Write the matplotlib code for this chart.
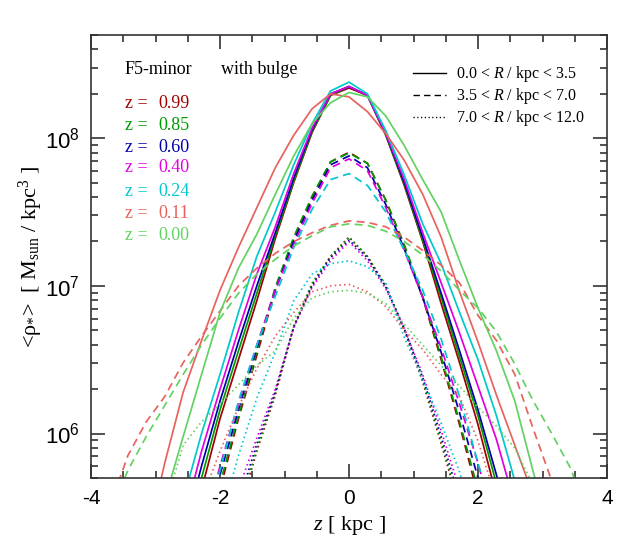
import numpy as np
import matplotlib
matplotlib.use("Agg")
import matplotlib.pyplot as plt
from matplotlib.lines import Line2D
from matplotlib.ticker import FixedLocator, NullFormatter

plt.rcParams['font.family'] = ['Liberation Serif', 'DejaVu Serif']
plt.rcParams['mathtext.fontset'] = 'custom'
plt.rcParams['mathtext.rm'] = 'Liberation Serif'
plt.rcParams['mathtext.it'] = 'Liberation Serif:italic'
plt.rcParams['mathtext.sf'] = 'Liberation Sans'

# ---------------- data ----------------
# vertical bin centres (kpc): k * 2/7 for k = -13..13
z_bins = [-3.714, -3.429, -3.143, -2.857, -2.571, -2.286, -2.000, -1.714, -1.429,
          -1.143, -0.857, -0.571, -0.286, 0.000, 0.286, 0.571, 0.857, 1.143,
          1.429, 1.714, 2.000, 2.286, 2.571, 2.857, 3.143, 3.429, 3.714]

redshift_labels = ["0.99", "0.85", "0.60", "0.40", "0.24", "0.11", "0.00"]
series_colors = ["#a00000", "#009a00", "#0000a8", "#e000e0", "#00c8cc", "#e8625e", "#62d262"]

# log10 <rho_*> [Msun/kpc^3], inner annulus 0.0 < R < 3.5 kpc
log_rho_inner = {
    "0.99": [3.10, 3.60, 4.10, 4.60, 5.10, 5.62, 6.10, 6.50, 6.90, 7.32, 7.70, 8.04, 8.29, 8.34,
             8.29, 8.02, 7.68, 7.30, 6.88, 6.48, 6.06, 5.58, 5.10, 4.60, 4.10, 3.60, 3.10],
    "0.85": [3.20, 3.70, 4.20, 4.70, 5.20, 5.70, 6.16, 6.56, 6.95, 7.34, 7.71, 8.05, 8.29, 8.35,
             8.29, 8.02, 7.69, 7.31, 6.92, 6.52, 6.12, 5.66, 5.20, 4.70, 4.20, 3.70, 3.20],
    "0.60": [3.30, 3.80, 4.30, 4.80, 5.30, 5.78, 6.22, 6.62, 7.00, 7.36, 7.73, 8.06, 8.30, 8.35,
             8.29, 8.03, 7.70, 7.33, 6.95, 6.56, 6.16, 5.72, 5.25, 4.80, 4.30, 3.80, 3.30],
    "0.40": [3.40, 3.90, 4.40, 4.90, 5.40, 5.88, 6.30, 6.70, 7.08, 7.40, 7.76, 8.07, 8.30, 8.35,
             8.29, 8.03, 7.72, 7.36, 7.02, 6.68, 6.32, 5.96, 5.52, 5.00, 4.50, 4.00, 3.50],
    "0.24": [3.60, 4.10, 4.60, 5.10, 5.55, 6.00, 6.40, 6.82, 7.20, 7.50, 7.82, 8.10, 8.32, 8.38,
             8.30, 8.05, 7.75, 7.42, 7.15, 6.82, 6.50, 6.12, 5.68, 5.20, 4.70, 4.20, 3.70],
    "0.11": [4.20, 4.70, 5.25, 5.80, 6.28, 6.63, 6.97, 7.26, 7.53, 7.80, 8.02, 8.20, 8.30, 8.28,
             8.18, 8.03, 7.85, 7.62, 7.33, 6.96, 6.62, 6.26, 5.92, 5.58, 5.10, 4.60, 4.10],
    "0.00": [4.00, 4.50, 5.00, 5.55, 5.98, 6.40, 6.82, 7.12, 7.35, 7.62, 7.88, 8.10, 8.24, 8.31,
             8.28, 8.15, 7.95, 7.72, 7.50, 7.17, 6.85, 6.56, 6.22, 5.74, 5.30, 4.80, 4.30],
}
# middle annulus 3.5 < R < 7.0 kpc
log_rho_middle = {
    "0.99": [2.70, 3.20, 3.70, 4.20, 4.70, 5.20, 5.62, 6.10, 6.53, 6.97, 7.32, 7.60, 7.84, 7.905,
             7.83, 7.58, 7.27, 6.92, 6.50, 6.06, 5.58, 5.10, 4.60, 4.10, 3.60, 3.10, 2.60],
    "0.85": [2.70, 3.20, 3.70, 4.20, 4.70, 5.20, 5.66, 6.12, 6.56, 6.99, 7.33, 7.61, 7.84, 7.90,
             7.83, 7.58, 7.28, 6.93, 6.52, 6.08, 5.62, 5.15, 4.65, 4.15, 3.65, 3.15, 2.65],
    "0.60": [2.75, 3.25, 3.75, 4.25, 4.75, 5.25, 5.72, 6.16, 6.58, 6.97, 7.30, 7.58, 7.82, 7.88,
             7.80, 7.55, 7.25, 6.92, 6.55, 6.14, 5.70, 5.25, 4.75, 4.25, 3.75, 3.25, 2.75],
    "0.40": [2.80, 3.30, 3.80, 4.30, 4.80, 5.30, 5.78, 6.20, 6.60, 6.97, 7.28, 7.56, 7.80, 7.86,
             7.78, 7.53, 7.24, 6.92, 6.58, 6.20, 5.80, 5.35, 4.85, 4.35, 3.85, 3.35, 2.85],
    "0.24": [2.80, 3.30, 3.80, 4.30, 4.80, 5.30, 5.75, 6.22, 6.60, 6.93, 7.26, 7.52, 7.72, 7.76,
             7.68, 7.50, 7.24, 6.97, 6.64, 6.25, 5.80, 5.35, 4.85, 4.35, 3.85, 3.35, 2.85],
    "0.11": [5.50, 5.85, 6.08, 6.25, 6.48, 6.66, 6.83, 7.00, 7.12, 7.22, 7.30, 7.36, 7.41, 7.44,
             7.43, 7.40, 7.33, 7.24, 7.14, 7.02, 6.80, 6.63, 6.40, 6.03, 5.68, 5.30, 4.90],
    "0.00": [5.45, 5.75, 5.98, 6.19, 6.40, 6.60, 6.78, 6.95, 7.08, 7.18, 7.27, 7.34, 7.40, 7.42,
             7.41, 7.37, 7.30, 7.21, 7.10, 6.97, 6.85, 6.69, 6.47, 6.22, 6.00, 5.77, 5.45],
}
# outer annulus 7.0 < R < 12.0 kpc
log_rho_outer = {
    "0.99": [2.00, 2.50, 3.00, 3.50, 4.00, 4.50, 5.00, 5.45, 5.88, 6.26, 6.72, 7.01, 7.20, 7.33,
             7.20, 7.00, 6.70, 6.35, 5.93, 5.50, 5.00, 4.50, 4.00, 3.50, 3.00, 2.50, 2.00],
    "0.85": [2.00, 2.50, 3.00, 3.50, 4.00, 4.50, 5.02, 5.48, 5.90, 6.28, 6.73, 7.02, 7.20, 7.33,
             7.20, 7.00, 6.71, 6.36, 5.95, 5.52, 5.02, 4.50, 4.00, 3.50, 3.00, 2.50, 2.00],
    "0.60": [2.00, 2.50, 3.00, 3.50, 4.00, 4.50, 5.08, 5.53, 5.93, 6.28, 6.72, 7.00, 7.19, 7.31,
             7.19, 6.99, 6.71, 6.38, 5.98, 5.56, 5.08, 4.60, 4.10, 3.60, 3.10, 2.60, 2.10],
    "0.40": [2.10, 2.60, 3.10, 3.60, 4.10, 4.60, 5.15, 5.62, 5.97, 6.30, 6.72, 6.99, 7.17, 7.30,
             7.17, 6.98, 6.71, 6.40, 6.02, 5.62, 5.18, 4.70, 4.20, 3.70, 3.20, 2.70, 2.20],
    "0.24": [2.40, 2.90, 3.40, 3.90, 4.40, 4.90, 5.40, 5.85, 6.24, 6.55, 6.90, 7.08, 7.15, 7.17,
             7.13, 7.02, 6.65, 6.37, 6.07, 5.74, 5.35, 4.90, 4.40, 3.90, 3.40, 2.90, 2.40],
    "0.11": [3.10, 3.60, 4.10, 4.60, 5.10, 5.55, 5.88, 6.18, 6.44, 6.66, 6.82, 6.96, 7.00, 7.01,
             6.96, 6.86, 6.70, 6.57, 6.40, 6.25, 5.95, 5.55, 5.10, 4.60, 4.10, 3.60, 3.10],
    "0.00": [4.00, 4.50, 5.00, 5.50, 5.92, 6.08, 6.20, 6.33, 6.46, 6.56, 6.78, 6.92, 6.96, 6.97,
             6.95, 6.88, 6.74, 6.60, 6.46, 6.32, 6.18, 6.05, 5.90, 5.65, 5.35, 4.90, 4.40],
}

annulus_labels = [r"0.0 < $R$ / kpc < 3.5", r"3.5 < $R$ / kpc < 7.0", r"7.0 < $R$ / kpc < 12.0"]
x_ticks = [-4, -2, 0, 2, 4]
x_tick_labels = ["-4", "-2", "0", "2", "4"]
y_ticks = [1e6, 1e7, 1e8]
y_tick_labels = [r"$\mathsf{10^{6}}$", r"$\mathsf{10^{7}}$", r"$\mathsf{10^{8}}$"]

# ---------------- figure ----------------
fig = plt.figure(figsize=(6.29, 5.5), dpi=100)
ax = fig.add_axes([91 / 629, 72 / 550, 516 / 629, 443 / 550])

LW = 1.25
dash_style = (0, (4.6, 3.0))
dot_style = (0, (0.9, 1.8))
z_arr = np.array(z_bins)
for lab, col in zip(redshift_labels, series_colors):
    ax.plot(z_arr, 10 ** np.array(log_rho_inner[lab]), color=col, lw=LW, ls='-')
    ax.plot(z_arr, 10 ** np.array(log_rho_middle[lab]), color=col, lw=LW, ls=dash_style)
    ax.plot(z_arr, 10 ** np.array(log_rho_outer[lab]), color=col, lw=LW, ls=dot_style)

ax.set_yscale('log')
ax.set_xlim(-4, 4)
ax.set_ylim(5e5, 5e8)

ax.set_xticks(x_ticks)
ax.set_xticklabels(x_tick_labels, family='Liberation Sans', fontsize=15)
ax.xaxis.set_minor_locator(FixedLocator(np.arange(-4, 4.01, 0.5)))
ax.set_yticks(y_ticks)
ax.set_yticklabels(y_tick_labels, fontsize=16)
minor_y = [m * 10 ** e for e in (5, 6, 7, 8) for m in range(2, 10)]
ax.yaxis.set_minor_locator(FixedLocator(minor_y))
ax.yaxis.set_minor_formatter(NullFormatter())

ax.tick_params(which='both', direction='in', top=True, right=True, color='#333333', width=1.2)
ax.tick_params(which='major', length=10, pad=8)
ax.tick_params(which='minor', length=5)
for sp in ax.spines.values():
    sp.set_linewidth(1.2)
    sp.set_color('#333333')

ax.set_xlabel(r"$z$ [ kpc ]", fontsize=16, labelpad=4)
ax.set_ylabel("<ρ$_{*}$>  [ M$_{\\rm sun}$ / kpc$^{3}$ ]", fontsize=16)
ax.yaxis.set_label_coords((45 - 91) / 516, 0.5)

def axfrac(px, py):
    return (px - 91) / 516, (478 - py) / 443

x0, y0 = axfrac(125, 70)
ax.text(x0, y0, "F5-minor", transform=ax.transAxes, fontsize=13, va='center', ha='left')
x1, _ = axfrac(221, 70)
ax.text(x1, y0, "with bulge", transform=ax.transAxes, fontsize=13, va='center', ha='left')

row_y = [103, 125, 147, 168, 191, 213, 235]
for lab, col, py in zip(redshift_labels, series_colors, row_y):
    xa, ya = axfrac(125, py)
    xb, _ = axfrac(158, py)
    ax.text(xa, ya, "z =", transform=ax.transAxes, fontsize=13, color=col, va='center', ha='left')
    ax.text(xb, ya, lab, transform=ax.transAxes, fontsize=13, color=col, va='center', ha='left')

handles = [Line2D([], [], color='black', lw=1.0, ls='-'),
           Line2D([], [], color='black', lw=1.0, ls=(0, (4.6, 3.0))),
           Line2D([], [], color='black', lw=1.0, ls=(0, (0.9, 1.8)))]
ax.legend(handles, annulus_labels, loc='upper right', frameon=False, fontsize=11.5,
          handlelength=2.1, handletextpad=0.6, labelspacing=0.12,
          bbox_to_anchor=axfrac(591, 58), borderaxespad=0.0)

fig.savefig("out.png", dpi=100)
